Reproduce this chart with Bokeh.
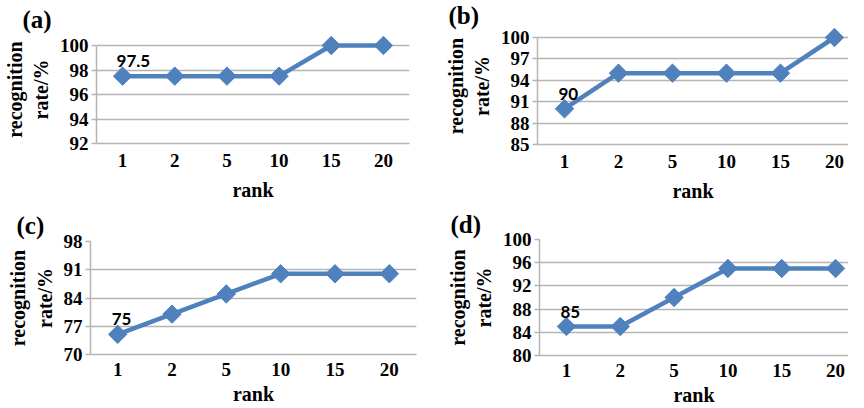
import numpy as np
from bokeh.plotting import figure
from bokeh.layouts import column, row
from bokeh.models import FixedTicker, Range1d, Title
from bokeh.core.properties import value
from bokeh.embed import file_html
from bokeh.resources import INLINE

ranks = ["1", "2", "5", "10", "15", "20"]
rate_a = [97.5, 97.5, 97.5, 97.5, 100, 100]
rate_b = [90, 95, 95, 95, 95, 100]
rate_c = [75, 80, 85, 90, 90, 90]
rate_d = [85, 85, 90, 95, 95, 95]
ticks_a = [92, 94, 96, 98, 100]
ticks_b = [85, 88, 91, 94, 97, 100]
ticks_c = [70, 77, 84, 91, 98]
ticks_d = [80, 84, 88, 92, 96, 100]
panel_names = ["(a)", "(b)", "(c)", "(d)"]

BLUE = "#4f81bd"
GRID = "#b4b4b4"
SERIF = "Liberation Serif"

def panel(name, vals, yticks, xend, height, borders, title_off, title_standoff,
          xl_standoff, xt_standoff, pad_px=0):
    bl, br, bt, bb = borders
    xs = list(range(len(ranks)))
    ymin, ymax = yticks[0], yticks[-1]
    frame_h = height - bt - bb
    pad = (ymax - ymin) * pad_px / frame_h
    p = figure(width=424, height=height, output_backend="svg", toolbar_location=None,
               x_range=Range1d(-0.5, xend), y_range=Range1d(ymin, ymax + pad),
               min_border_left=bl, min_border_right=br, min_border_top=bt - pad_px,
               min_border_bottom=bb)
    p.outline_line_color = None
    p.background_fill_color = "white"
    p.border_fill_color = "white"
    t = Title(text=name, align="left", offset=title_off, text_font=SERIF,
              text_font_style="bold", text_font_size="25px", text_color="black",
              standoff=title_standoff - pad_px)
    p.add_layout(t, "above")
    p.xaxis.ticker = FixedTicker(ticks=xs)
    p.xaxis.major_label_overrides = {i: r for i, r in enumerate(ranks)}
    p.yaxis.ticker = FixedTicker(ticks=yticks)
    p.yaxis.bounds = (ymin, ymax)
    for ax in (p.xaxis[0], p.yaxis[0]):
        ax.axis_line_color = GRID
        ax.axis_line_width = 1.5
        ax.major_label_text_font = SERIF
        ax.major_label_text_font_style = "bold"
        ax.major_label_text_font_size = "19px"
        ax.major_label_text_color = "black"
        ax.axis_label_text_font = SERIF
        ax.axis_label_text_font_style = "bold"
        ax.axis_label_text_font_size = "20px"
        ax.axis_label_text_color = "black"
        ax.minor_tick_line_color = None
    p.xaxis.major_tick_line_color = None
    p.xaxis.major_label_standoff = xt_standoff
    p.xaxis.axis_label = "rank"
    p.xaxis.axis_label_standoff = xl_standoff
    p.yaxis.major_tick_line_color = GRID
    p.yaxis.major_tick_line_width = 1.5
    p.yaxis.major_tick_out = 5
    p.yaxis.major_tick_in = 0
    p.yaxis.major_label_standoff = 3
    p.yaxis.axis_label = "recognition\nrate/%"
    p.yaxis.axis_label_standoff = 5
    p.xgrid.grid_line_color = None
    p.ygrid.grid_line_color = GRID
    p.ygrid.grid_line_width = 1.5
    p.ygrid.ticker = FixedTicker(ticks=yticks)
    p.line(xs, vals, line_color=BLUE, line_width=4.5)
    p.scatter(xs, vals, marker="square", size=13, angle=np.pi / 4,
              fill_color=BLUE, line_color=BLUE)
    p.text(x=[xs[0]], y=[vals[0]], text=[f"{vals[0]:g}"], text_font=value("Lato"),
           text_font_style="bold", text_font_size="17px", text_color="black",
           text_align="left", text_baseline="bottom", x_offset=-6, y_offset=-9)
    return p

pa = panel(panel_names[0], rate_a, ticks_a, 5.5, 204, (90, 15, 45, 61), -74, 16, 9, 4, 10)
pb = panel(panel_names[1], rate_b, ticks_b, 5.26, 204, (113, 0, 37, 60), -89, 7, 9, 4, 10)
pc = panel(panel_names[2], rate_c, ticks_c, 5.5, 204, (90, 8, 37, 54), -74, 5, 4, 2)
pd = panel(panel_names[3], rate_d, ticks_d, 5.24, 204, (115, 0, 35, 53), -89, 3, 4, 2)

layout = column(row(column(pa), column(pb)), row(column(pc), column(pd)))
open("out.html", "w").write(file_html(layout, INLINE))
